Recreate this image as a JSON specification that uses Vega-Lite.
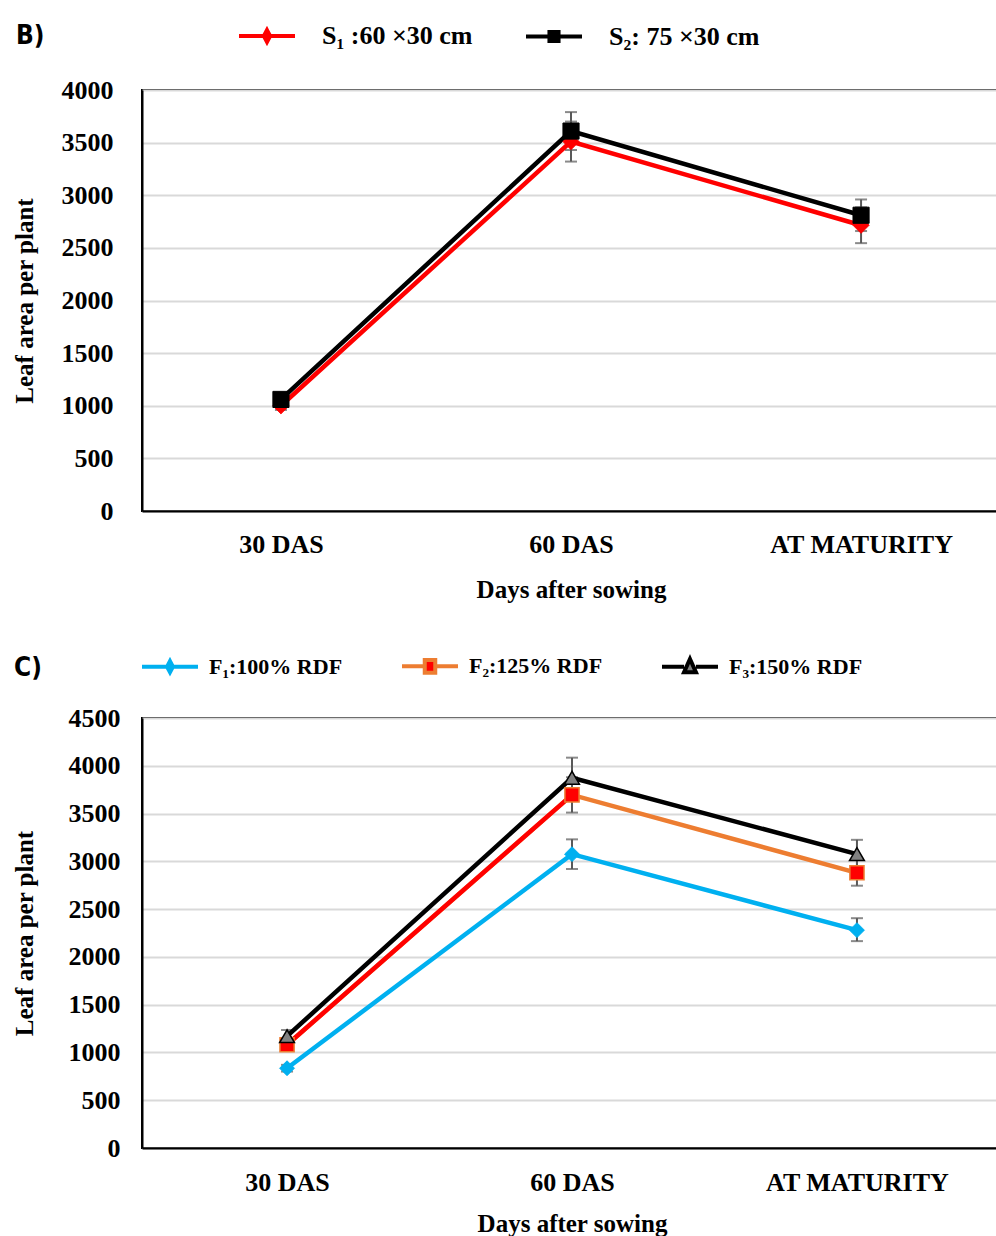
{
  "$schema": "https://vega.github.io/schema/vega-lite/v6.json",
  "background": "white",
  "padding": {"left": 11, "top": 22, "right": 0, "bottom": 0},
  "spacing": 51,
  "resolve": {
    "scale": {"stroke": "independent", "fill": "independent", "shape": "independent"},
    "legend": {"stroke": "independent", "fill": "independent", "shape": "independent"}
  },
  "config": {
    "font": "Liberation Serif",
    "view": {"stroke": "black", "strokeWidth": 2},
    "axis": {
      "labelFont": "Liberation Serif", "labelFontWeight": "bold", "labelColor": "black",
      "titleFont": "Liberation Serif", "titleFontWeight": "bold", "titleColor": "black",
      "ticks": false, "domainColor": "black", "domainWidth": 2,
      "gridColor": "#D9D9D9", "gridWidth": 2, "labelLimit": 400
    },
    "legend": {
      "orient": "none", "direction": "horizontal", "titleOrient": "left",
      "titleFont": "Liberation Sans Narrow, DejaVu Sans Condensed, Liberation Sans", "titleFontSize": 26, "titleFontWeight": "bold", "titleColor": "black", "titleBaseline": "middle",
      "labelFont": "Liberation Serif", "labelFontWeight": "bold", "labelColor": "black",
      "symbolSize": 196, "symbolStrokeWidth": 4
    }
  },
  "datasets": {
    "B": [
      {"series": "S₁ :60 ×30 cm", "stage": "30 DAS", "value": 1000, "lo": 960, "hi": 1040},
      {"series": "S₁ :60 ×30 cm", "stage": "60 DAS", "value": 3510, "lo": 3320, "hi": 3700},
      {"series": "S₁ :60 ×30 cm", "stage": "AT MATURITY", "value": 2715, "lo": 2545, "hi": 2885},
      {"series": "S₂: 75 ×30  cm", "stage": "30 DAS", "value": 1060, "lo": 1020, "hi": 1100},
      {"series": "S₂: 75 ×30  cm", "stage": "60 DAS", "value": 3610, "lo": 3430, "hi": 3790},
      {"series": "S₂: 75 ×30  cm", "stage": "AT MATURITY", "value": 2810, "lo": 2660, "hi": 2960}
    ],
    "C": [
      {"series": "F₁:100% RDF", "stage": "30 DAS", "value": 835, "lo": 800, "hi": 870},
      {"series": "F₁:100% RDF", "stage": "60 DAS", "value": 3075, "lo": 2920, "hi": 3230},
      {"series": "F₁:100% RDF", "stage": "AT MATURITY", "value": 2280, "lo": 2165, "hi": 2405},
      {"series": "F₂:125% RDF", "stage": "30 DAS", "value": 1080, "lo": 1035, "hi": 1125},
      {"series": "F₂:125% RDF", "stage": "60 DAS", "value": 3695, "lo": 3510, "hi": 3880},
      {"series": "F₂:125% RDF", "stage": "AT MATURITY", "value": 2880, "lo": 2745, "hi": 3015},
      {"series": "F₃:150% RDF", "stage": "30 DAS", "value": 1170, "lo": 1110, "hi": 1235},
      {"series": "F₃:150% RDF", "stage": "60 DAS", "value": 3875, "lo": 3660, "hi": 4085},
      {"series": "F₃:150% RDF", "stage": "AT MATURITY", "value": 3075, "lo": 2920, "hi": 3225}
    ]
  },
  "vconcat": [
    {
      "width": 858,
      "height": 421,
      "data": {"name": "B"},
      "encoding": {
        "x": {"field": "stage", "type": "ordinal", "sort": ["30 DAS", "60 DAS", "AT MATURITY"],
          "scale": {"type": "point", "padding": 0.479},
          "axis": {"title": "Days after sowing", "labelAngle": 0, "labelFontSize": 26, "titleFontSize": 25, "labelPadding": 20, "titlePadding": 20, "grid": false}},
        "y": {"field": "value", "type": "quantitative", "scale": {"domain": [0, 4000], "nice": false},
          "axis": {"title": "Leaf area per plant", "format": "d", "values": [0, 500, 1000, 1500, 2000, 2500, 3000, 3500, 4000], "labelFontSize": 26, "titleFontSize": 25, "labelPadding": 29, "titlePadding": 24, "grid": true}}
      },
      "layer": [
        {
          "mark": {"type": "rule", "color": "#595959", "strokeWidth": 2},
          "encoding": {
            "y": {"field": "lo", "type": "quantitative", "title": "Leaf area per plant"},
            "y2": {"field": "hi"}
          }
        },
        {
          "mark": {"type": "tick", "color": "#595959", "thickness": 2, "size": 12},
          "encoding": {"y": {"field": "lo", "type": "quantitative", "title": "Leaf area per plant"}}
        },
        {
          "mark": {"type": "tick", "color": "#595959", "thickness": 2, "size": 12},
          "encoding": {"y": {"field": "hi", "type": "quantitative", "title": "Leaf area per plant"}}
        },
        {
          "mark": {"type": "line", "strokeWidth": 4.5},
          "encoding": {
            "stroke": {"field": "series", "type": "nominal",
              "scale": {"domain": ["S₁ :60 ×30 cm", "S₂: 75 ×30  cm"], "range": ["#FF0000", "#000000"]},
              "legend": {"title": "B)", "legendX": -126, "legendY": -67, "titlePadding": 209, "labelFontSize": 26, "labelOffset": 42, "columnPadding": 45}}
          }
        },
        {
          "transform": [{"filter": "datum.series === 'S₁ :60 ×30 cm'"}],
          "mark": {"type": "point", "shape": "diamond", "filled": true, "fill": "#FF0000", "stroke": "#FF0000", "strokeWidth": 1, "size": 260, "opacity": 1}
        },
        {
          "transform": [{"filter": "datum.series === 'S₂: 75 ×30  cm'"}],
          "mark": {"type": "point", "shape": "square", "filled": true, "fill": "#000000", "stroke": "#000000", "strokeWidth": 1, "size": 260, "opacity": 1}
        },
        {
          "transform": [{"filter": "false"}],
          "mark": {"type": "point", "filled": true, "opacity": 1, "strokeWidth": 4},
          "encoding": {
            "shape": {"field": "series", "type": "nominal",
              "scale": {"domain": ["S₁ :60 ×30 cm", "S₂: 75 ×30  cm"], "range": ["M-4,0H4M0,-0.85L0.45,0L0,0.85L-0.45,0Z", "M-4,0H4M-0.65,-0.65H0.65V0.65H-0.65Z"]},
              "legend": {"title": "B)", "legendX": -126, "legendY": -67, "titlePadding": 209, "labelFontSize": 26, "labelOffset": 42, "columnPadding": 45}},
            "fill": {"field": "series", "type": "nominal",
              "scale": {"domain": ["S₁ :60 ×30 cm", "S₂: 75 ×30  cm"], "range": ["#FF0000", "#000000"]},
              "legend": {"title": "B)", "legendX": -126, "legendY": -67, "titlePadding": 209, "labelFontSize": 26, "labelOffset": 42, "columnPadding": 45}},
            "stroke": {"field": "series", "type": "nominal",
              "legend": {"title": "B)", "legendX": -126, "legendY": -67, "titlePadding": 209, "labelFontSize": 26, "labelOffset": 42, "columnPadding": 45}}
          }
        }
      ]
    },
    {
      "width": 860,
      "height": 430,
      "data": {"name": "C"},
      "encoding": {
        "x": {"field": "stage", "type": "ordinal", "sort": ["30 DAS", "60 DAS", "AT MATURITY"],
          "scale": {"type": "point", "padding": 0.509},
          "axis": {"title": "Days after sowing", "labelAngle": 0, "labelFontSize": 26, "titleFontSize": 25, "labelPadding": 21, "titlePadding": 16, "grid": false}},
        "y": {"field": "value", "type": "quantitative", "scale": {"domain": [0, 4500], "nice": false},
          "axis": {"title": "Leaf area per plant", "format": "d", "values": [0, 500, 1000, 1500, 2000, 2500, 3000, 3500, 4000, 4500], "labelFontSize": 26, "titleFontSize": 25, "labelPadding": 22, "titlePadding": 31, "grid": true}}
      },
      "layer": [
        {
          "mark": {"type": "rule", "color": "#595959", "strokeWidth": 2},
          "encoding": {
            "y": {"field": "lo", "type": "quantitative", "title": "Leaf area per plant"},
            "y2": {"field": "hi"}
          }
        },
        {
          "mark": {"type": "tick", "color": "#595959", "thickness": 2, "size": 12},
          "encoding": {"y": {"field": "lo", "type": "quantitative", "title": "Leaf area per plant"}}
        },
        {
          "mark": {"type": "tick", "color": "#595959", "thickness": 2, "size": 12},
          "encoding": {"y": {"field": "hi", "type": "quantitative", "title": "Leaf area per plant"}}
        },
        {
          "mark": {"type": "line", "strokeWidth": 4.5},
          "encoding": {
            "stroke": {"field": "series", "type": "nominal",
              "scale": {"domain": ["F₁:100% RDF", "F₂:125% RDF", "F₃:150% RDF"], "range": ["#00B0F0", "#ED7D31", "#000000"]},
              "legend": {"title": "C)", "legendX": -128, "legendY": -63, "titlePadding": 117, "labelFontSize": 22, "labelOffset": 28, "columnPadding": 51}}
          }
        },
        {
          "transform": [{"filter": "datum.series === 'F₂:125% RDF' && datum.stage !== 'AT MATURITY'"}],
          "mark": {"type": "line", "strokeWidth": 4.5, "color": "#FF0000"},
          "encoding": {}
        },
        {
          "transform": [{"filter": "datum.series === 'F₁:100% RDF'"}],
          "mark": {"type": "point", "shape": "diamond", "filled": true, "fill": "#00B0F0", "stroke": "#00B0F0", "strokeWidth": 1, "size": 220, "opacity": 1}
        },
        {
          "transform": [{"filter": "datum.series === 'F₂:125% RDF'"}],
          "mark": {"type": "point", "shape": "square", "filled": true, "fill": "#FF0000", "stroke": "#ED7D31", "strokeWidth": 1.5, "size": 200, "opacity": 1}
        },
        {
          "transform": [{"filter": "datum.series === 'F₃:150% RDF'"}],
          "mark": {"type": "point", "shape": "triangle-up", "filled": true, "fill": "#808080", "stroke": "#000000", "strokeWidth": 1.5, "size": 220, "opacity": 1}
        },
        {
          "transform": [{"filter": "false"}],
          "mark": {"type": "point", "filled": true, "opacity": 1, "strokeWidth": 4},
          "encoding": {
            "shape": {"field": "series", "type": "nominal",
              "scale": {"domain": ["F₁:100% RDF", "F₂:125% RDF", "F₃:150% RDF"], "range": ["M-4,0H4M0,-0.8L0.42,0L0,0.8L-0.42,0Z", "M-4,0H-0.75M0.75,0H4M-0.75,-0.9H0.75V0.9H-0.75Z", "M-4,0H-0.85M0.85,0H4M0,-1.1L0.85,0.8H-0.85Z"]},
              "legend": {"title": "C)", "legendX": -128, "legendY": -63, "titlePadding": 117, "labelFontSize": 22, "labelOffset": 28, "columnPadding": 51}},
            "fill": {"field": "series", "type": "nominal",
              "scale": {"domain": ["F₁:100% RDF", "F₂:125% RDF", "F₃:150% RDF"], "range": ["#00B0F0", "#FF0000", "#808080"]},
              "legend": {"title": "C)", "legendX": -128, "legendY": -63, "titlePadding": 117, "labelFontSize": 22, "labelOffset": 28, "columnPadding": 51}},
            "stroke": {"field": "series", "type": "nominal",
              "legend": {"title": "C)", "legendX": -128, "legendY": -63, "titlePadding": 117, "labelFontSize": 22, "labelOffset": 28, "columnPadding": 51}}
          }
        }
      ]
    }
  ]
}
